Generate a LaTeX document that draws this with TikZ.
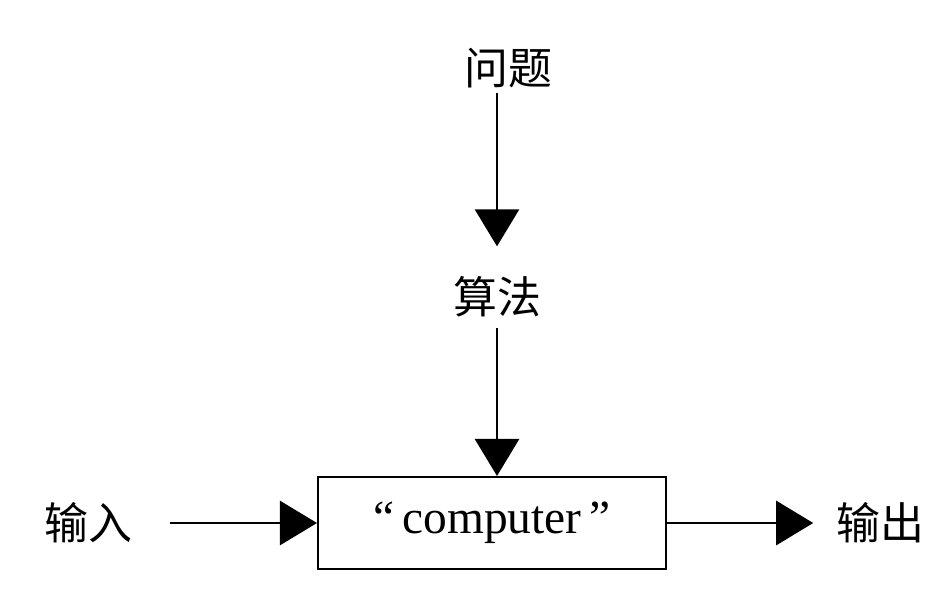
\documentclass[tikz,border=0pt]{standalone}
\usepackage{fontspec}
\setmainfont{Liberation Serif}
\newfontfamily\cjk{Noto Sans CJK SC}
\usetikzlibrary{arrows.meta, positioning}

\tikzset{
    label/.style={font=\cjk\fontsize{25}{25}\selectfont, inner sep=0pt},
    flow/.style={-{Triangle[width=0.88cm, length=0.74cm]}, line width=1.6pt},
    machine/.style={draw, line width=1.2pt, minimum width=6.96cm, minimum height=1.84cm, inner sep=0pt, font=\fontsize{27}{27}\selectfont}
}

\begin{document}
\begin{tikzpicture}[x=0.02cm, y=-0.02cm]
    \useasboundingbox (0, 0) rectangle (939, 593);
    \node[label] (problem) at (508, 68) {问题};
    \node[label] (algorithm) at (497, 297) {算法};
    \node[machine] (computer) at (492, 523) {“\,computer\,”};
    \node[label] (input) at (88, 523) {输入};
    \node[label] (output) at (880, 523) {输出};
    \draw
    (problem.south -| algorithm) edge[flow, shorten <=0.1cm, shorten >=0.6cm] (algorithm)
    (algorithm) edge[flow, shorten <=0.2cm] (algorithm |- computer.north)
    (input) edge[flow, shorten <=0.75cm] (computer)
    (computer) edge[flow, shorten >=0.45cm] (output);
\end{tikzpicture}
\end{document}
